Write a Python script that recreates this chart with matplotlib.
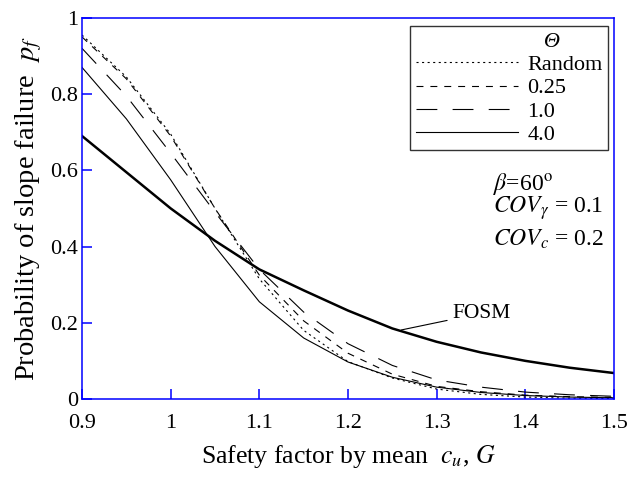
import numpy as np
import matplotlib
matplotlib.use('Agg')
import matplotlib.pyplot as plt
from matplotlib.lines import Line2D

plt.rcParams['font.family'] = ['Liberation Serif', 'DejaVu Serif']
plt.rcParams['mathtext.fontset'] = 'stix'
plt.rcParams['lines.scale_dashes'] = False

# ----------------------------------------------------------------------------------------------------------------------
# data
# ----------------------------------------------------------------------------------------------------------------------

G = [0.9, 0.95, 1.0, 1.05, 1.1, 1.15, 1.2, 1.25, 1.3, 1.35, 1.4, 1.45, 1.5]

pf_random = [0.955, 0.845, 0.695, 0.50, 0.315, 0.18, 0.098, 0.055, 0.026, 0.012, 0.005, 0.002, 0.001]
pf_025 = [0.95, 0.84, 0.69, 0.50, 0.325, 0.205, 0.12, 0.065, 0.033, 0.019, 0.010, 0.006, 0.004]
pf_10 = [0.92, 0.795, 0.645, 0.49, 0.34, 0.228, 0.145, 0.088, 0.05, 0.031, 0.018, 0.011, 0.007]
pf_40 = [0.87, 0.735, 0.575, 0.40, 0.255, 0.16, 0.097, 0.057, 0.031, 0.017, 0.009, 0.005, 0.003]
pf_fosm = [0.69, 0.595, 0.50, 0.415, 0.34, 0.285, 0.232, 0.185, 0.15, 0.122, 0.100, 0.082, 0.068]

xticks = [0.9, 1.0, 1.1, 1.2, 1.3, 1.4, 1.5]
xticklabels = ['0.9', '1', '1.1', '1.2', '1.3', '1.4', '1.5']
yticks = [0, 0.2, 0.4, 0.6, 0.8, 1.0]
yticklabels = ['0', '0.2', '0.4', '0.6', '0.8', '1']

legend_labels = ['Random', '0.25', '1.0', '4.0']

# ----------------------------------------------------------------------------------------------------------------------
# figure
# ----------------------------------------------------------------------------------------------------------------------

fig = plt.figure(figsize=(6.31, 4.83), dpi=100)
ax = fig.add_axes([0.130, 0.174, 0.843, 0.789])

st_random = (0, (1.5, 2.5))
st_025 = (0, (5, 5))
st_10 = (0, (15, 11))

ax.plot(G, pf_random, color='k', lw=0.8, linestyle=st_random)
ax.plot(G, pf_025, color='k', lw=0.8, linestyle=st_025)
ax.plot(G, pf_10, color='k', lw=0.8, linestyle=st_10)
ax.plot(G, pf_40, color='k', lw=0.8, linestyle='-')
ax.plot(G, pf_fosm, color='k', lw=1.8, linestyle='-')

ax.set_xlim(0.9, 1.5)
ax.set_ylim(0, 1)
ax.set_xticks(xticks)
ax.set_xticklabels(xticklabels)
ax.set_yticks(yticks)
ax.set_yticklabels(yticklabels)

for s in ax.spines.values():
    s.set_color('blue')
    s.set_linewidth(1.1)
ax.tick_params(direction='in', length=7, width=1.1, color='blue', labelsize=16,
               top=False, right=False)
ax.tick_params(axis='x', pad=11)
ax.tick_params(axis='y', pad=3)

ax.set_xlabel('Safety factor by mean  $c_u$, $G$', fontsize=18.5, labelpad=7)
ax.set_ylabel('Probability of slope failure  $p_f$', fontsize=20.5, labelpad=4)

# legend with the Theta header as its first row
handles = [Line2D([], [], color='none'),
           Line2D([], [], color='k', lw=0.8, linestyle=st_random),
           Line2D([], [], color='k', lw=0.8, linestyle=st_025),
           Line2D([], [], color='k', lw=0.8, linestyle=st_10),
           Line2D([], [], color='k', lw=0.8, linestyle='-')]
labels = ['   \u0398'] + legend_labels
leg = ax.legend(handles, labels, loc='upper right', bbox_to_anchor=(0.989, 0.979),
                borderaxespad=0, fontsize=16, handlelength=4.6, handletextpad=0.42,
                labelspacing=0.12, borderpad=0.25, fancybox=False, framealpha=1)
leg.get_texts()[0].set_fontstyle('italic')
leg.get_frame().set_edgecolor('#333333')
leg.get_frame().set_linewidth(1.0)

ax.text(1.363, 0.565, '$\\beta$=60$^{\\rm o}$', fontsize=17, va='center', ha='left')
ax.text(1.363, 0.50, '$COV_{\\gamma}$ = 0.1', fontsize=17, va='center', ha='left')
ax.text(1.363, 0.42, '$COV_{c}$ = 0.2', fontsize=17, va='center', ha='left')

ax.annotate('FOSM', xy=(1.26, 0.181), xytext=(1.318, 0.225),
            fontsize=15.5, va='center', ha='left',
            arrowprops=dict(arrowstyle='-', color='k', lw=0.8, shrinkA=2, shrinkB=0))

plt.savefig('out.png', dpi=100)
